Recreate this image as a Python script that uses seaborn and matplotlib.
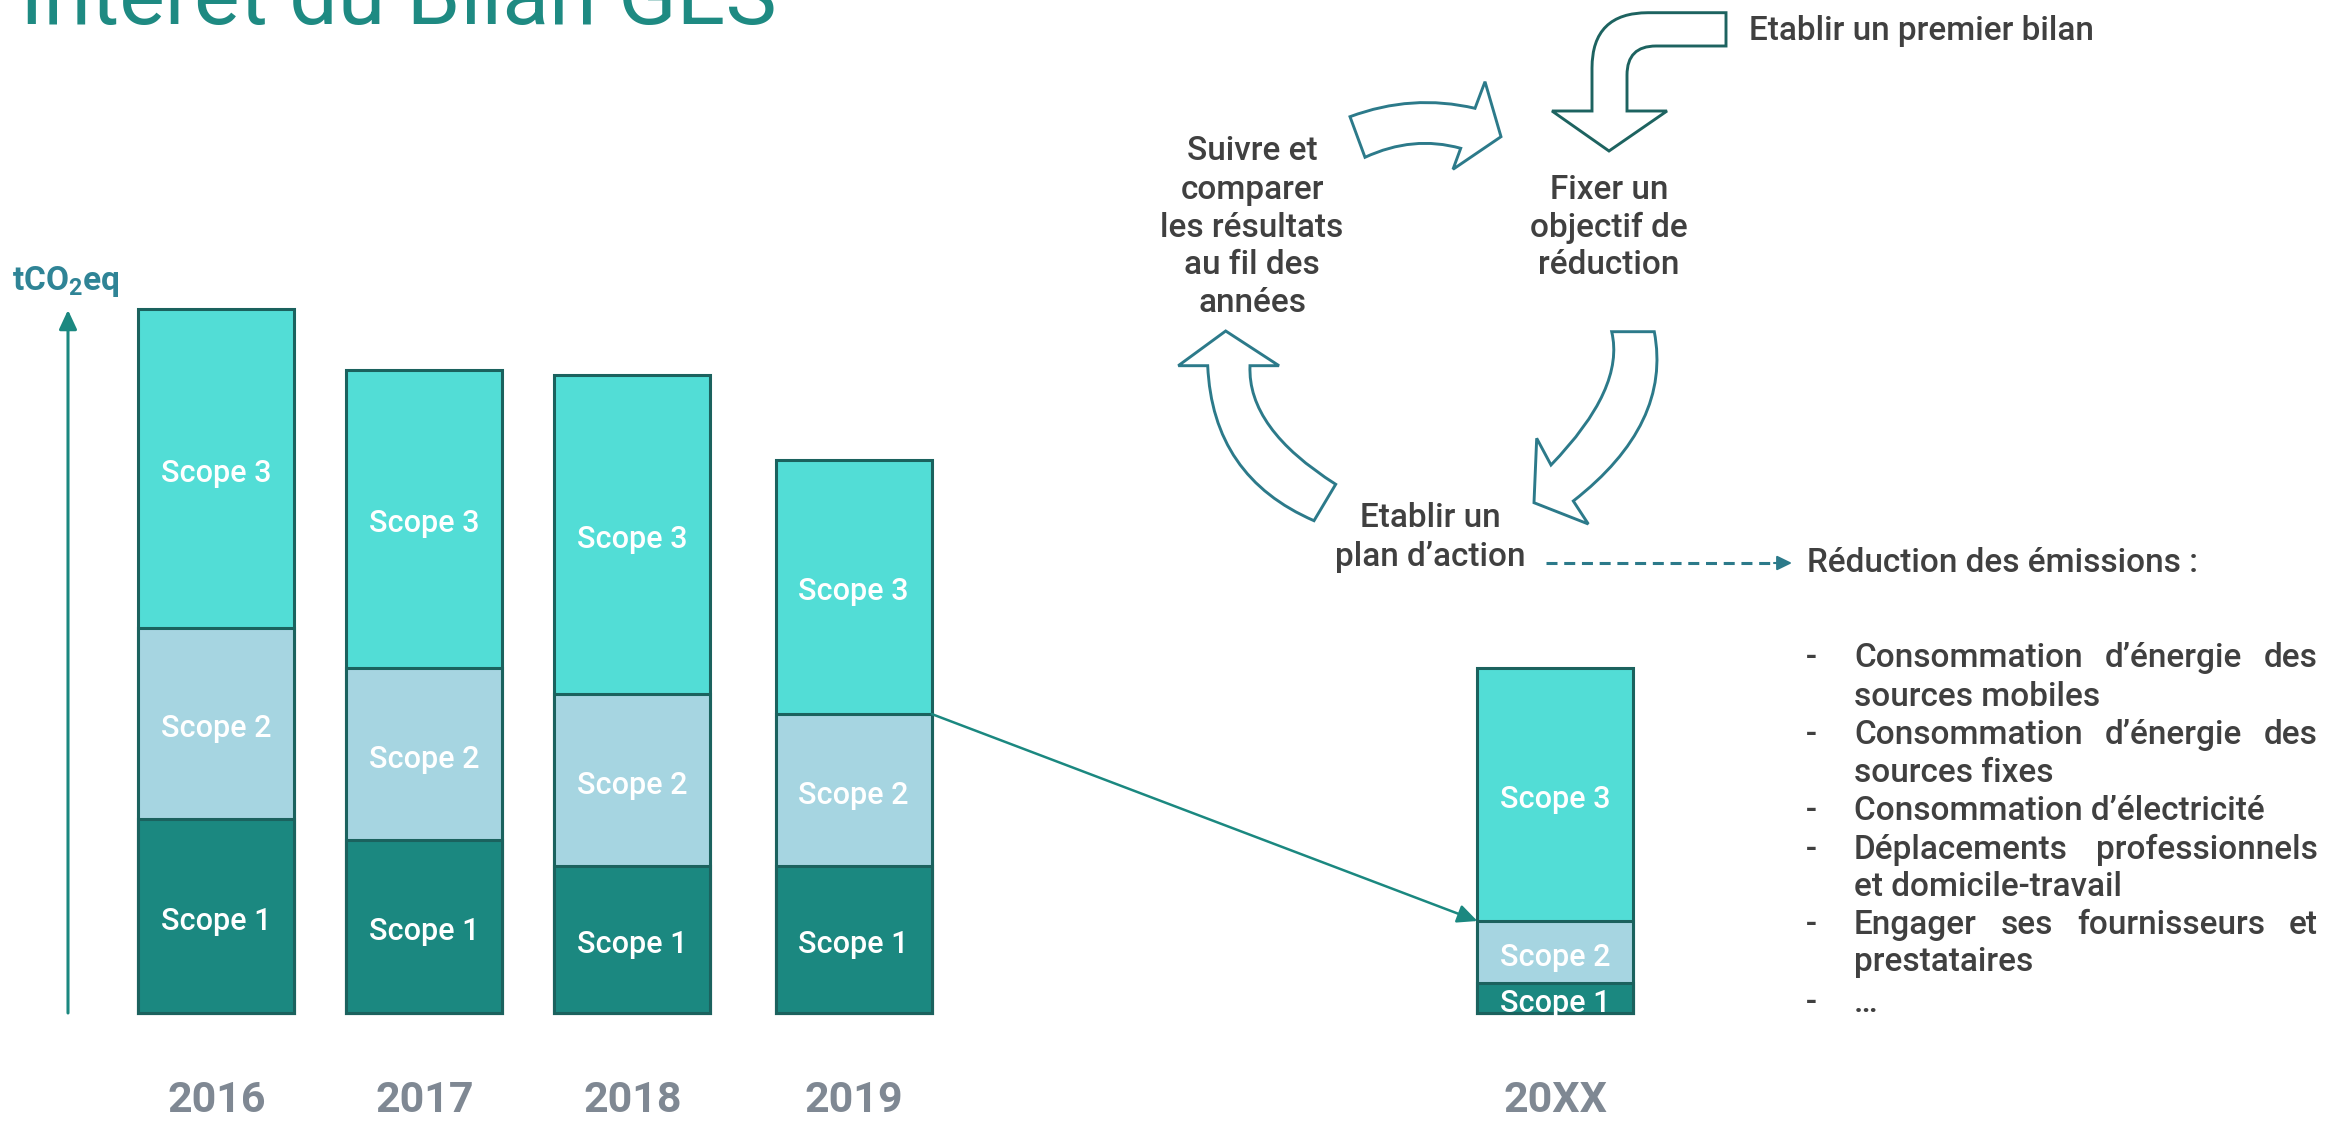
import numpy as np
import pandas as pd
import matplotlib
matplotlib.use("Agg")
import matplotlib.pyplot as plt
import seaborn as sns
from matplotlib.path import Path
from matplotlib.patches import PathPatch

# ---------------- data ----------------
years = ["2016", "2017", "2018", "2019", "20XX"]
scope1 = [194, 173, 147, 147, 30]
scope2 = [191, 172, 172, 152, 62]
scope3 = [319, 298, 319, 254, 253]
segment_labels = ["Scope 1", "Scope 2", "Scope 3"]
unit_label = r"tCO$_\mathregular{2}$eq"
title = "Intérêt du Bilan GES"
cycle_steps = {
    "start": ["Etablir un premier bilan"],
    "goal": ["Fixer un", "objectif de", "réduction"],
    "plan": ["Etablir un", "plan d’action"],
    "follow": ["Suivre et", "comparer", "les résultats", "au fil des", "années"],
}
reduction_title = "Réduction des émissions :"
reduction_items = [
    ["Consommation d’énergie des", "sources mobiles"],
    ["Consommation d’énergie des", "sources fixes"],
    ["Consommation d’électricité"],
    ["Déplacements professionnels", "et domicile-travail"],
    ["Engager ses fournisseurs et", "prestataires"],
    ["…"],
]

# ---------------- layout / style ----------------
x_positions = [0, 1, 2, 3.064, 6.438]
C1, C2, C3 = "#1B8880", "#A6D5E1", "#52DDD6"
EDGE = "#1B625E"
GRAY_TXT = "#404040"
YEAR_COL = "#7F8893"
TEAL = "#1B8880"
BLUE_TEAL = "#2C7A8A"
W, H = 2326, 1123

sns.set_theme(style="white")
plt.rcParams["font.family"] = ["Roboto", "DejaVu Sans"]
plt.rcParams["mathtext.fontset"] = "custom"
plt.rcParams["mathtext.rm"] = "Roboto"
plt.rcParams["mathtext.bf"] = "Roboto:bold"

fig = plt.figure(figsize=(W / 100, H / 100), dpi=100)
fig.patch.set_facecolor("white")
ax = fig.add_axes([0, 0, 1, 1])
ov = fig.add_axes([0, 0, 1, 1])
ov.set_xlim(0, W)
ov.set_ylim(H, 0)
ov.axis("off")
ov.patch.set_alpha(0)

# ---------------- stacked bars ----------------
df = pd.DataFrame({"pos": x_positions, "year": years,
                   "s1": scope1, "s2": scope2, "s3": scope3})
df["s12"] = df["s1"] + df["s2"]
df["total"] = df["s12"] + df["s3"]
for col, color in [("total", C3), ("s12", C2), ("s1", C1)]:
    sns.barplot(data=df, x="pos", y=col, native_scale=True, width=0.75,
                color=color, saturation=1, edgecolor=EDGE, linewidth=2.2,
                errorbar=None, orient="x", ax=ax)
ax.set_xlim(-216.3 / 208, (W - 216.3) / 208)
ax.set_ylim(-110, H - 110)
ax.axis("off")

for _, r in df.iterrows():
    bottoms = [0, r["s1"], r["s12"]]
    heights = [r["s1"], r["s2"], r["s3"]]
    for lab, b, h in zip(segment_labels, bottoms, heights):
        ax.text(r["pos"], b + h / 2 - 5, lab, ha="center", va="center",
                color="white", fontsize=22, fontweight="medium")
    ax.text(r["pos"], -88, r["year"], ha="center", va="center",
            color=YEAR_COL, fontsize=31, fontweight="bold")

# arrow 2019 -> 20XX
ax.annotate("", xy=(df["pos"][4] - 0.375, df["s12"][4]),
            xytext=(df["pos"][3] + 0.375, df["s12"][3]),
            arrowprops=dict(arrowstyle="-|>,head_length=0.6,head_width=0.28",
                            color=TEAL, lw=1.8, shrinkA=0, shrinkB=0,
                            mutation_scale=20))

# y axis arrow and unit label
ov.annotate("", xy=(68, 310), xytext=(68, 1013),
            arrowprops=dict(arrowstyle="-|>,head_length=0.58,head_width=0.27",
                            color=TEAL, lw=2.2, shrinkA=0, shrinkB=0,
                            mutation_scale=20))
ov.text(12, 290, unit_label, ha="left", va="baseline", color="#2F8496",
        fontsize=24, fontweight="bold")

# title (cut at top, as in the reference slide)
ov.text(20, 24, title, ha="left", va="baseline", color="#1E8A82",
        fontsize=62, fontweight="normal")

# ---------------- cycle arrows ----------------
M, L, C, Z = Path.MOVETO, Path.LINETO, Path.CURVE3, Path.CLOSEPOLY

def block(pts, codes, color):
    p = Path(pts, codes)
    ov.add_patch(PathPatch(p, facecolor="white", edgecolor=color, lw=2.1,
                           joinstyle="miter"))

block([(1726, 12.7), (1648, 12.7), (1592, 12.7), (1592, 68), (1592, 111),
       (1552, 111), (1609, 151), (1667, 111), (1627, 111), (1627, 75),
       (1627, 46), (1656, 46), (1726, 46), (1726, 12.7)],
      [M, L, C, C, L, L, L, L, L, L, C, C, L, Z], "#1D6360")

block([(1350, 116.7), (1412, 93.5), (1475, 108.3), (1485, 81.7),
       (1501, 136.7), (1453, 169.3), (1460.7, 148.3), (1413, 135),
       (1365, 157.3), (1350, 116.7)],
      [M, C, C, L, L, L, L, C, C, Z], BLUE_TEAL)

block([(1611.7, 331.7), (1654.3, 331.7), (1672, 424), (1573.3, 501),
       (1588.3, 524), (1534, 502.7), (1536.7, 438.3), (1551, 465),
       (1625.3, 388.3), (1611.7, 331.7), (1611.7, 331.7)],
      [M, L, C, C, L, L, L, L, C, C, Z], BLUE_TEAL)

block([(1225.7, 331), (1279, 365.7), (1250, 365.7), (1247.2, 428.3),
       (1335.7, 484.3), (1314, 520.7), (1212.5, 476.8), (1207.7, 365.7),
       (1178.3, 365.7), (1225.7, 331)],
      [M, L, L, C, C, L, C, C, L, Z], BLUE_TEAL)

TXT = dict(color=GRAY_TXT, fontsize=24, fontweight="medium")
ov.text(1749, 31, cycle_steps["start"][0], ha="left", va="center", **TXT)
for t, y in zip(cycle_steps["goal"], [190, 228, 265]):
    ov.text(1609, y, t, ha="center", va="center", **TXT)
for t, y in zip(cycle_steps["plan"], [518, 557]):
    ov.text(1430, y, t, ha="center", va="center", **TXT)
for t, y in zip(cycle_steps["follow"], [151, 190, 228, 265, 303]):
    ov.text(1252, y, t, ha="center", va="center", **TXT)

# dashed arrow to reduction text
ov.plot([1546, 1776], [563, 563], color=BLUE_TEAL, lw=2.2,
        dashes=(3.6, 2.2), solid_capstyle="butt")
ov.annotate("", xy=(1792, 563), xytext=(1774, 563),
            arrowprops=dict(arrowstyle="-|>,head_length=0.45,head_width=0.22",
                            color=BLUE_TEAL, lw=1.5, shrinkA=0, shrinkB=0,
                            mutation_scale=20))
ov.text(1807, 563, reduction_title, ha="left", va="center", **TXT)

# justified bullet list
renderer = fig.canvas.get_renderer()
x_dash, x_left, x_right = 1806, 1854, 2318
line_y = [658, 697, 735, 773, 811, 850, 887, 925, 962, 1003]

def justified(text, y):
    words = text.split(" ")
    objs = [ov.text(0, y, w, ha="left", va="center", **TXT) for w in words]
    widths = [o.get_window_extent(renderer).width for o in objs]
    gap = (x_right - x_left - sum(widths)) / max(len(words) - 1, 1)
    x = x_left
    for o, w in zip(objs, widths):
        o.set_x(x)
        x += w + gap

k = 0
for item in reduction_items:
    ov.text(x_dash, line_y[k], "-", ha="left", va="center", **TXT)
    for j, line in enumerate(item):
        if j < len(item) - 1:
            justified(line, line_y[k])
        else:
            ov.text(x_left, line_y[k], line, ha="left", va="center", **TXT)
        k += 1

fig.savefig("out.png", dpi=100, facecolor="white")
